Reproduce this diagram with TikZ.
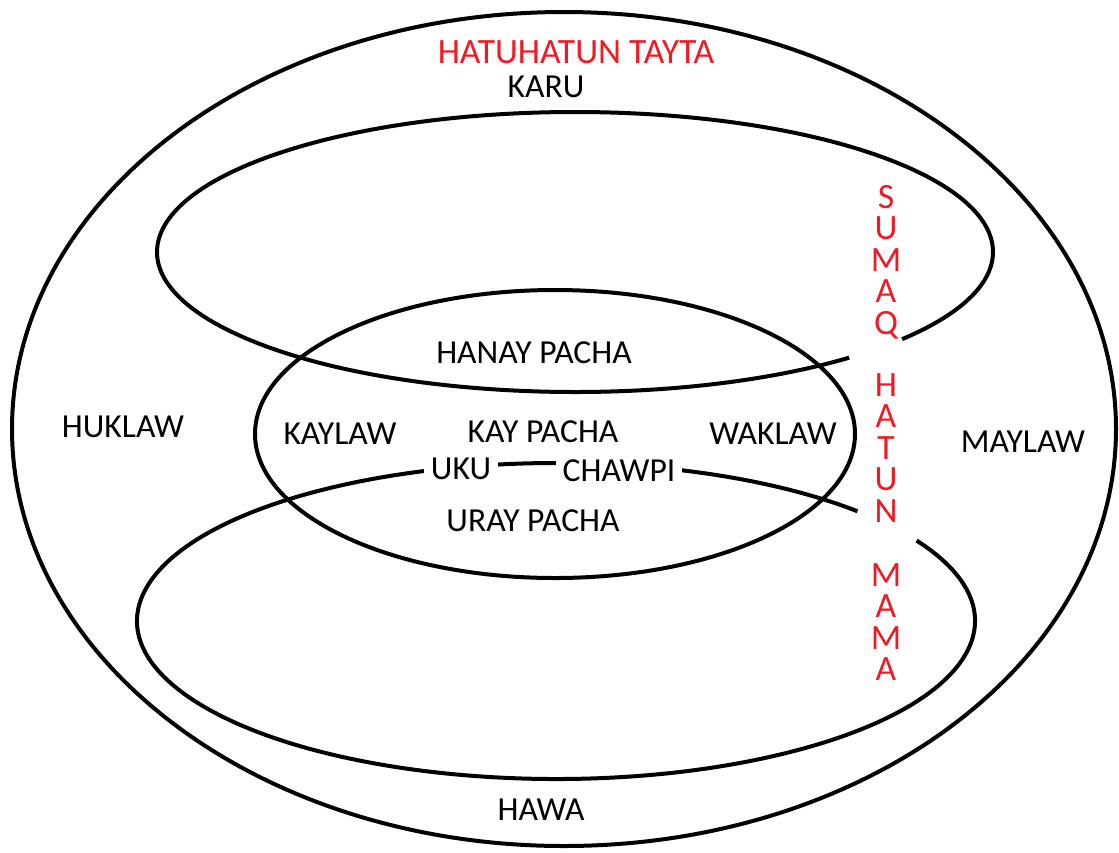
\documentclass[tikz,border=0pt]{standalone}
\usepackage{fontspec}
\setmainfont{Carlito}
\definecolor{paintred}{RGB}{237,28,36}

\begin{document}
\begin{tikzpicture}[x=0.5pt, y=-0.5pt,
    rim/.style={line width=2pt},
    word/.style={font=\fontsize{16.8}{19}\selectfont, inner sep=2pt},
    redword/.style={font=\fontsize{17.8}{15.75}\selectfont, text=paintred, align=center, inner sep=0pt}]
    \useasboundingbox (0, 0) rectangle (1119, 852);
    % outer
    \draw [rim]      (564, 429) ellipse [x radius=552, y radius=417];
    % upper
    \draw [rim, shift={(575, 252)}] (49:418 and 140) arc [start angle=49, end angle=398.5, x radius=418, y radius=140];
    % middle
    \draw [rim]      (555, 434) ellipse [x radius=300, y radius=144];
    % lower
    \draw [rim, shift={(556, 621)}] (-30.6:419 and 158) arc [start angle=-30.6, end angle=316, x radius=419, y radius=158];
    % top and bottom
    \node [redword]  (tayta)  at (576, 52)  {HATUHATUN TAYTA};
    \node [word]     (karu)   at (546, 87)  {KARU};
    \node [word]     (hawa)   at (541, 810) {HAWA};
    % sides
    \node [word]     (huklaw) at (123, 427)  {HUKLAW};
    \node [word]     (maylaw) at (1023, 442) {MAYLAW};
    % middle worlds
    \node [word]     (hanay)  at (534, 353) {HANAY PACHA};
    \node [word]     (kaylaw) at (340, 434) {KAYLAW};
    \node [word]     (kay)    at (543, 432) {KAY PACHA};
    \node [word]     (waklaw) at (773, 434) {WAKLAW};
    \node [word, fill=white, inner xsep=3.5pt] (uku)    at (461, 469) {UKU};
    \node [word, fill=white, inner xsep=3.5pt] (chawpi) at (619, 471) {CHAWPI};
    \node [word]     (uray)   at (533, 521) {URAY PACHA};
    % column
    \node [redword]  (sumaq)  at (886, 262) {S\\U\\M\\A\\Q};
    \node [redword]  (hatun)  at (886, 448) {H\\A\\T\\U\\N};
    \node [redword]  (mama)   at (886, 622) {M\\A\\M\\A};
\end{tikzpicture}
\end{document}
